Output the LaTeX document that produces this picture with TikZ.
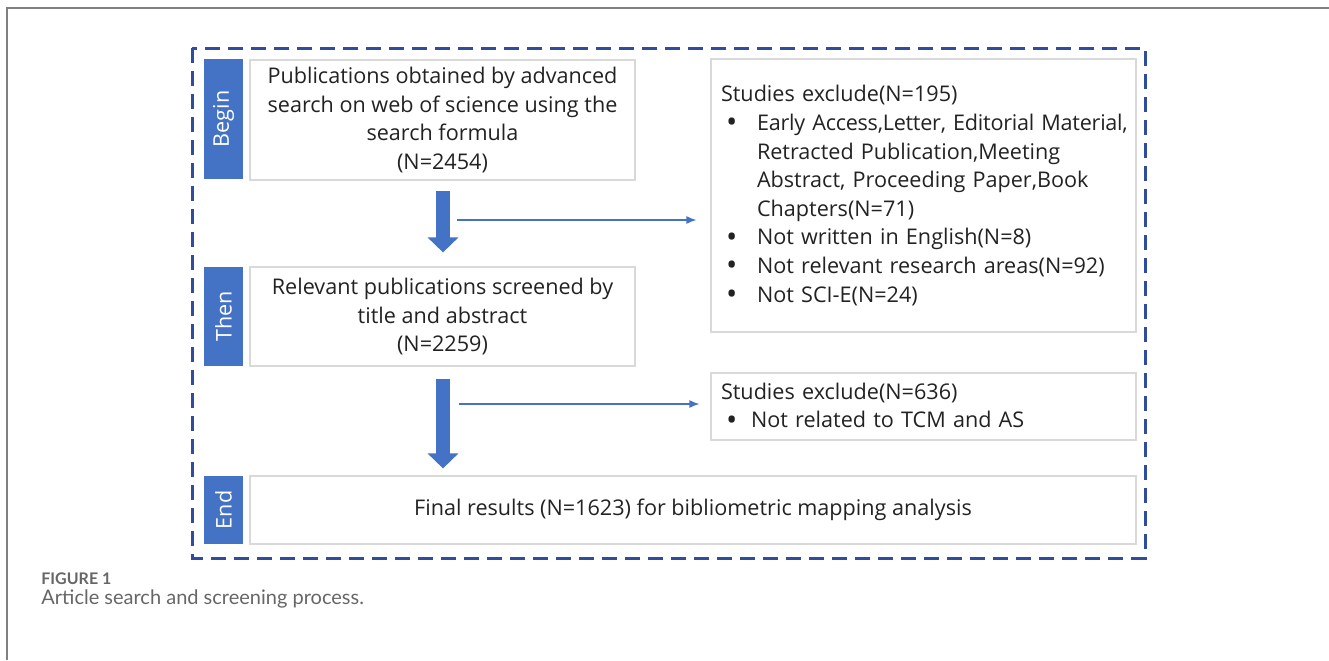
\documentclass[tikz,border=0pt]{standalone}
\usepackage{fontspec}
\setmainfont{Open Sans}
\newfontfamily\capfont{Lato}
\usetikzlibrary{arrows.meta}

\definecolor{barblue}{HTML}{4472C4}
\definecolor{framblue}{HTML}{2F4D9C}
\definecolor{boxgray}{HTML}{D9D9D9}
\definecolor{txtgray}{HTML}{222222}
\definecolor{capgray}{HTML}{666666}

\newcommand{\bmark}[1]{\makebox[#1][l]{\hspace{2.5pt}\raisebox{-1.2pt}{\fontsize{15}{14}\selectfont\textbullet}}}

\tikzset{
  stagebar/.style={fill=barblue, draw=none, text=white, minimum height=19.5pt, inner sep=0pt, rotate=90},
  stepbox/.style={draw=boxgray, line width=0.6pt, inner sep=0pt, text=txtgray, align=center},
  exbox/.style={draw=boxgray, line width=0.6pt, inner xsep=5pt, inner ysep=0pt, text=txtgray, text width=202.5pt, align=left},
  blockarrow/.style={barblue, line width=7pt, -{Triangle[width=15pt,length=7.5pt]}},
  thinarrow/.style={barblue, line width=0.6pt, -{Latex[length=5pt,width=4pt]}},
}

\begin{document}
\begin{tikzpicture}[x=0.5pt, y=-0.5pt, font=\fontsize{10.8}{14.3}\selectfont]
	\useasboundingbox (0,0) rectangle (1329,660);
	% page frame and dashed border
	\draw[gray, line width=1pt] (7,660) -- (7,8) -- (1329,8);
	\draw[framblue, line width=1.5pt, dash pattern=on 7.5pt off 4pt] (192,48) rectangle (1145,558);

	% left column
	\node[stagebar, minimum width=60pt] (b1) at (223.5,119) {Begin};
	\node[stepbox, minimum width=192.5pt, minimum height=60pt] (s1) at (442.5,120)
		{Publications obtained by advanced\\search on web of science using the\\search formula\\(N=2454)};
	\node[stagebar, minimum width=49.5pt] (b2) at (223.5,316.5) {Then};
	\node[stepbox, minimum width=192.5pt, minimum height=49.5pt] (s2) at (442.5,316.5)
		{Relevant publications screened by\\title and abstract\\(N=2259)};
	\node[stagebar, minimum width=34pt] (b3) at (223.5,510) {End};
	\node[stepbox, minimum width=443pt, minimum height=34pt] (s3) at (693,510)
		{Final results (N=1623) for bibliometric mapping analysis};

	% exclusion boxes
	\node[exbox, minimum height=136.5pt] (e1) at (923.5,195.5)
		{Studies exclude(N=195)\\
		\bmark{18pt}\mbox{\addfontfeatures{LetterSpace=-1.2}Early Access,Letter, Editorial Material,}\\
		\hspace*{18pt}Retracted Publication,Meeting\\
		\hspace*{18pt}Abstract, Proceeding Paper,Book\\
		\hspace*{18pt}Chapters(N=71)\\
		\bmark{18pt}Not written in English(N=8)\\
		\bmark{18pt}Not relevant research areas(N=92)\\
		\bmark{18pt}Not SCI-E(N=24)};
	\node[exbox, minimum height=33.5pt] (e2) at (923.5,406.5)
		{Studies exclude(N=636)\\
		\bmark{15pt}Not related to TCM and AS};

	% flow arrows
	\coordinate (a1) at (443,191);
	\coordinate (a2) at (443,379);
	\coordinate (t1) at (457,220);
	\coordinate (t2) at (459,404);
	\draw[blockarrow] (a1) -- (a1 |- s2.north) [shorten >=7pt];
	\draw[blockarrow] (a2) -- (a2 |- s3.north) [shorten >=3.5pt];
	\draw[thinarrow] (t1) -- (t1 -| e1.west) [shorten >=7pt];
	\draw[thinarrow] (t2) -- (t2 -| e2.west) [shorten >=5.5pt];

	% caption
	\node[anchor=base west, inner sep=0pt, text=capgray, font=\capfont\bfseries\fontsize{8}{10}\selectfont] (fig) at (41,584) {FIGURE 1};
	\node[anchor=base west, inner sep=0pt, text=capgray, font=\capfont\fontsize{10}{12}\selectfont] (cap) at (41,604) {Article search and screening process.};
\end{tikzpicture}
\end{document}
